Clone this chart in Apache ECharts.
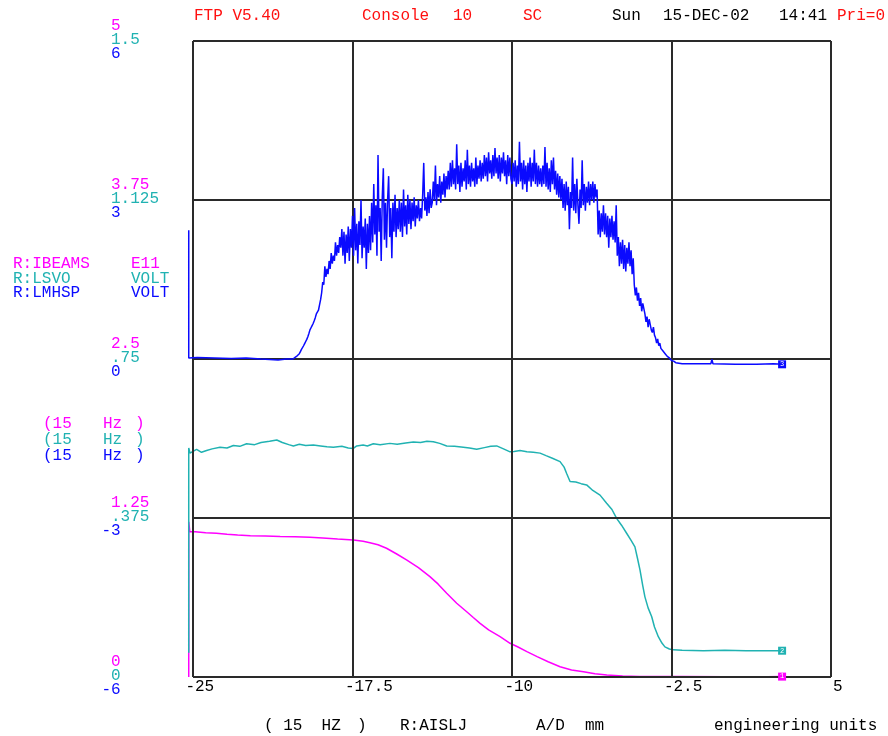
<!DOCTYPE html>
<html><head><meta charset="utf-8">
<script src="https://cdn.jsdelivr.net/npm/echarts@6/dist/echarts.min.js"></script>
<style>html,body{margin:0;padding:0;background:#fff}#c{width:888px;height:736px}</style>
</head><body><div id="c"></div>
<script>
// ---- tick values / labels ----
const xTicks = [-25, -17.5, -10, -2.5, 5];
const xTickLabels = ['-25', '-17.5', '-10', '-2.5', '5'];
const ibeamsTicks = [0, 1.25, 2.5, 3.75, 5];
const ibeamsLabels = ['0', '1.25', '2.5', '3.75', '5'];
const lsvoTicks = [0, 0.375, 0.75, 1.125, 1.5];
const lsvoLabels = ['0', '.375', '.75', '1.125', '1.5'];
const lmhspTicks = [-6, -3, 0, 3, 6];
const lmhspLabels = ['-6', '-3', '0', '3', '6'];

// ---- R:IBEAMS (magenta) [x, E11] ----
const ibeamsData = [[-25.2,0.0],[-25.2,1.22],[-25.15,1.142],[-24.9,1.142],[-24.4,1.134],[-23.9,1.130],[-23.4,1.122],
[-22.9,1.116],[-22.3,1.110],[-21.6,1.108],[-20.9,1.105],[-20.2,1.103],[-19.5,1.098],[-18.9,1.092],[-18.2,1.084],
[-17.46,1.077],[-17.0,1.068],[-16.68,1.056],[-16.3,1.040],[-15.9,1.012],[-15.4,0.965],[-14.96,0.920],[-14.4,0.860],
[-13.86,0.789],[-13.47,0.730],[-13.07,0.658],[-12.6,0.580],[-12.13,0.513],[-11.82,0.468],[-11.5,0.422],[-11.1,0.370],
[-10.56,0.317],[-10.09,0.265],[-9.74,0.238],[-9.3,0.200],[-8.82,0.160],[-8.3,0.120],[-7.74,0.081],[-7.2,0.055],
[-6.64,0.042],[-6.1,0.025],[-5.54,0.016],[-4.8,0.008],[-4.0,0.004],[-3.5,0.003],[-2.0,0.003],[0.0,0.002],[2.0,0.002],[2.7,0.003]];

// ---- R:LSVO (cyan) [x, VOLT] ----
const lsvoData = [[-25.2,0.057],[-25.2,0.540],[-25.14,0.528],[-25.0,0.532],[-24.83,0.537],[-24.6,0.530],[-24.36,0.534],
[-24.1,0.538],[-23.73,0.542],[-23.4,0.540],[-23.1,0.546],[-22.8,0.544],[-22.48,0.550],[-22.1,0.548],[-21.8,0.553],
[-21.4,0.556],[-21.06,0.559],[-20.8,0.553],[-20.5,0.548],[-20.28,0.545],[-20.0,0.549],[-19.7,0.546],[-19.34,0.547],
[-19.0,0.545],[-18.7,0.543],[-18.4,0.542],[-18.0,0.544],[-17.7,0.540],[-17.46,0.539],[-17.3,0.545],[-17.0,0.547],
[-16.8,0.545],[-16.52,0.550],[-16.2,0.548],[-15.74,0.551],[-15.4,0.549],[-15.0,0.552],[-14.64,0.554],[-14.3,0.553],
[-14.0,0.556],[-13.70,0.555],[-13.4,0.551],[-13.07,0.545],[-12.7,0.544],[-12.29,0.542],[-12.0,0.540],[-11.66,0.537],
[-11.3,0.541],[-11.0,0.544],[-10.72,0.545],[-10.4,0.538],[-10.09,0.531],[-9.9,0.532],[-9.62,0.534],[-9.3,0.531],
[-9.0,0.530],[-8.68,0.528],[-8.4,0.522],[-8.1,0.516],[-7.74,0.508],[-7.55,0.495],[-7.43,0.480],[-7.27,0.461],
[-7.0,0.460],[-6.75,0.456],[-6.49,0.453],[-6.2,0.440],[-5.86,0.429],[-5.55,0.410],[-5.3,0.395],[-5.08,0.374],
[-4.85,0.358],[-4.61,0.339],[-4.4,0.322],[-4.22,0.307],[-4.1,0.280],[-3.98,0.252],[-3.85,0.215],[-3.75,0.189],
[-3.6,0.163],[-3.43,0.142],[-3.3,0.118],[-3.12,0.095],[-2.95,0.080],[-2.81,0.071],[-2.6,0.066],[-2.42,0.064],
[-2.0,0.063],[-1.0,0.062],[0.0,0.063],[1.0,0.062],[2.0,0.062],[2.45,0.062],[2.7,0.062]];

// ---- R:LMHSP (blue) [x, VOLT] ----
const lmhspHead = [[-25.2,2.43],[-25.2,0.02],[-24.8,0.03],[-24.0,0.02],[-23.2,0.01],[-22.5,0.02],[-21.8,0.0],[-21.0,-0.02],[-20.6,0.0]];
const lmhspBodyStart = -20.3;   // body samples every 0.05 mm from here to -2.5
const lmhspBodyStep = 0.05;
const lmhspBody = [
0.00,0.01,0.03,0.04,0.06,0.08,0.10,0.14,0.18,0.21,0.25,0.29,0.33,0.37,0.42,0.48,0.55,0.59,0.63,0.67,0.72,0.78,0.85,0.88,0.92,1.02,1.12,
1.25,1.45,1.40,1.75,1.55,1.70,1.60,1.85,1.70,2.00,1.80,1.95,1.85,2.20,1.95,2.15,2.00,2.30,2.10,
2.45,1.95,2.40,1.80,2.35,2.00,2.50,1.85,2.45,2.10,
2.70,1.95,2.85,2.05,2.55,1.80,2.60,2.15,3.00,1.90,2.50,2.10,2.65,1.70,2.55,2.00,2.70,2.05,
2.95,2.20,3.30,2.35,2.90,1.95,3.85,2.40,2.85,1.85,3.05,3.60,2.25,2.95,2.10,3.00,3.45,2.30,2.85,1.90,2.95,2.40,3.10,2.30,2.85,2.45,3.00,
2.40,2.95,2.30,3.20,2.50,2.90,2.35,3.10,2.55,3.00,2.45,2.95,2.60,3.05,2.50,2.90,2.65,3.00,2.60,2.85,
2.65,3.10,3.70,2.80,3.05,2.70,3.15,2.75,3.20,2.85,
2.95,3.35,3.00,3.65,2.90,3.30,3.05,3.45,2.95,3.35,3.10,3.50,3.05,3.45,3.20,3.55,
3.20,3.70,3.25,3.75,3.30,3.60,3.20,4.05,3.30,3.65,3.15,3.70,3.25,3.60,3.35,3.75,3.20,3.95,3.30,3.65,3.25,3.70,3.35,3.60,3.25,3.80,3.30,3.65,3.40,3.75,3.35,3.70,
3.40,3.85,3.45,3.80,3.35,3.90,3.50,3.75,3.40,3.85,3.45,3.98,3.50,3.80,3.40,3.85,3.35,3.80,3.50,3.90,3.45,3.75,3.30,3.85,3.45,3.80,3.40,
3.30,3.70,3.35,3.75,3.25,3.65,3.30,4.10,3.35,3.70,3.20,3.75,3.30,3.65,3.15,3.70,3.35,3.80,3.25,3.70,3.35,3.95,3.30,3.70,3.25,3.65,3.30,3.60,
3.25,3.65,3.30,4.00,3.25,3.70,3.20,3.60,3.15,3.75,3.30,3.80,3.20,3.55,3.10,3.50,3.05,3.45,3.00,3.40,
2.85,3.30,2.80,3.35,2.90,3.25,2.45,3.15,2.85,3.80,2.80,3.30,2.75,3.40,2.90,2.55,3.20,2.85,3.75,2.90,3.30,2.80,3.25,2.95,3.35,2.90,3.30,
3.00,3.35,2.95,3.30,3.05,3.20,
2.35,2.80,2.30,2.75,2.40,2.90,2.35,2.75,2.30,2.70,2.10,2.65,2.30,2.70,2.25,2.60,
2.20,2.90,1.95,2.30,1.75,2.20,1.80,2.25,1.70,2.15,1.65,2.10,1.80,2.20,1.75,2.05,1.60,1.90,
1.40,1.20,1.35,1.10,1.25,1.00,1.15,0.90,1.05,0.95,0.85,0.70,0.80,0.60,0.75,0.65,0.55,0.50,0.60,0.45,
0.40,0.30,0.38,0.25,0.30,0.20,0.18,0.15,0.12,0.10,0.07,0.05,0.03,0.02,-0.01,-0.03];
const lmhspTail = [[-2.4,-0.04],[-2.3,-0.07],[-2.0,-0.09],[-1.5,-0.09],[-0.65,-0.09],[-0.6,-0.01],[-0.55,-0.09],
[0.5,-0.1],[1.5,-0.1],[2.3,-0.09],[2.7,-0.1]];

const lmhspData = lmhspHead.concat(
  lmhspBody.map((v, i) => [+(lmhspBodyStart + i * lmhspBodyStep).toFixed(2), v]),
  lmhspTail);

// view range: frame spans -25..5; a small margin left of it shows the traces' start strokes
const xViewMin = -25.47;

const MAG = '#ff00ff', CYAN = '#20b2b2', BLUE = '#0a0aff', GRIDC = '#2a2a2a', RED = '#ff1010';
const FONT = '"Liberation Mono","DejaVu Sans Mono",monospace';
const FS = 16;

function endMark(data, num, color) {
  const last = data[data.length - 1];
  return {
    symbol: 'rect', symbolSize: 8, silent: true, animation: false,
    itemStyle: { color: color },
    label: { show: true, position: 'inside', formatter: num, color: '#ffffff', fontSize: 7, fontFamily: FONT },
    data: [{ coord: last }]
  };
}

const xLo = xTicks[0], xHi = xTicks[xTicks.length - 1];
const yLo = ibeamsTicks[0], yHi = ibeamsTicks[ibeamsTicks.length - 1];
const frameLines = [];
xTicks.forEach(v => frameLines.push([{ coord: [v, yLo] }, { coord: [v, yHi] }]));
ibeamsTicks.forEach(v => frameLines.push([{ coord: [xLo, v] }, { coord: [xHi, v] }]));

const chart = echarts.init(document.getElementById('c'), null, { renderer: 'canvas' });
const axisHidden = { axisLine: { show: false }, axisTick: { show: false }, axisLabel: { show: false }, splitLine: { show: false } };
chart.setOption({
  animation: false,
  backgroundColor: '#ffffff',
  grid: { left: 183, top: 41, width: 648, height: 636, show: false, containLabel: false },
  xAxis: Object.assign({ type: 'value', min: xViewMin, max: xHi }, axisHidden),
  yAxis: [
    Object.assign({ type: 'value', min: 0, max: 5, interval: 1.25, position: 'left', alignTicks: false }, axisHidden),
    Object.assign({ type: 'value', min: 0, max: 1.5, interval: 0.375, position: 'left' }, axisHidden),
    Object.assign({ type: 'value', min: -6, max: 6, interval: 3, position: 'left' }, axisHidden)
  ],
  series: [
    { name: 'grid', type: 'line', yAxisIndex: 0, data: [], z: 1, silent: true,
      markLine: { silent: true, symbol: 'none', animation: false, label: { show: false },
        lineStyle: { color: GRIDC, width: 2, type: 'solid' }, data: frameLines } },
    { name: 'R:IBEAMS', type: 'line', yAxisIndex: 0, data: ibeamsData, showSymbol: false, z: 3, clip: false,
      lineStyle: { color: MAG, width: 1.5 }, itemStyle: { color: MAG }, markPoint: endMark(ibeamsData, '1', MAG) },
    { name: 'R:LSVO', type: 'line', yAxisIndex: 1, data: lsvoData, showSymbol: false, z: 4, clip: false,
      lineStyle: { color: CYAN, width: 1.5 }, itemStyle: { color: CYAN }, markPoint: endMark(lsvoData, '2', CYAN) },
    { name: 'R:LMHSP', type: 'line', yAxisIndex: 2, data: lmhspData, showSymbol: false, z: 5, clip: false,
      lineStyle: { color: BLUE, width: 1.5 }, itemStyle: { color: BLUE }, markPoint: endMark(lmhspData, '3', BLUE) }
  ]
});

// ---- text: tick labels positioned via the library's scales ----
function txt(x, y, s, color) {
  return { type: 'text', x: x, y: y, silent: true,
    style: { text: s, fill: color, font: FS + 'px ' + FONT, textAlign: 'left', textVerticalAlign: 'middle', align: 'left', verticalAlign: 'middle' } };
}
const CW = 9.6;
const g = [];
xTicks.forEach((v, i) => {
  const px = chart.convertToPixel({ xAxisIndex: 0 }, v);
  const lab = xTickLabels[i];
  g.push(txt(px + 2 - (lab[0] === '-' ? CW : 0), 687, lab, '#000'));
});
[[ibeamsTicks, ibeamsLabels, 0, -15, MAG], [lsvoTicks, lsvoLabels, 1, -1, CYAN], [lmhspTicks, lmhspLabels, 2, 13, BLUE]]
  .forEach(([ticks, labels, idx, dy, col]) => {
    ticks.forEach((v, i) => {
      const py = chart.convertToPixel({ yAxisIndex: idx }, v);
      const lab = labels[i];
      g.push(txt(111 - (lab[0] === '-' ? CW : 0), py + dy, lab, col));
    });
  });

// header
g.push(txt(194, 16, 'FTP V5.40', RED));
g.push(txt(362, 16, 'Console', RED));
g.push(txt(453, 16, '10', RED));
g.push(txt(523, 16, 'SC', RED));
g.push(txt(612, 16, 'Sun', '#000'));
g.push(txt(663, 16, '15-DEC-02', '#000'));
g.push(txt(779, 16, '14:41', '#000'));
g.push(txt(837, 16, 'Pri=0', RED));
// legend
g.push(txt(13, 264, 'R:IBEAMS', MAG)); g.push(txt(131, 264, 'E11', MAG));
g.push(txt(13, 279, 'R:LSVO', CYAN)); g.push(txt(131, 279, 'VOLT', CYAN));
g.push(txt(13, 293, 'R:LMHSP', BLUE)); g.push(txt(131, 293, 'VOLT', BLUE));
// rate rows
[[424, MAG], [440, CYAN], [456, BLUE]].forEach(([y, c]) => {
  g.push(txt(43, y, '(15', c)); g.push(txt(103, y, 'Hz', c)); g.push(txt(135, y, ')', c));
});
// footer
g.push(txt(264, 726, '( 15  HZ', '#000'));
g.push(txt(357, 726, ')', '#000'));
g.push(txt(400, 726, 'R:AISLJ', '#000'));
g.push(txt(536, 726, 'A/D', '#000'));
g.push(txt(585, 726, 'mm', '#000'));
g.push(txt(714, 726, 'engineering units', '#000'));

chart.setOption({ graphic: { elements: g } });
</script>
</body></html>
